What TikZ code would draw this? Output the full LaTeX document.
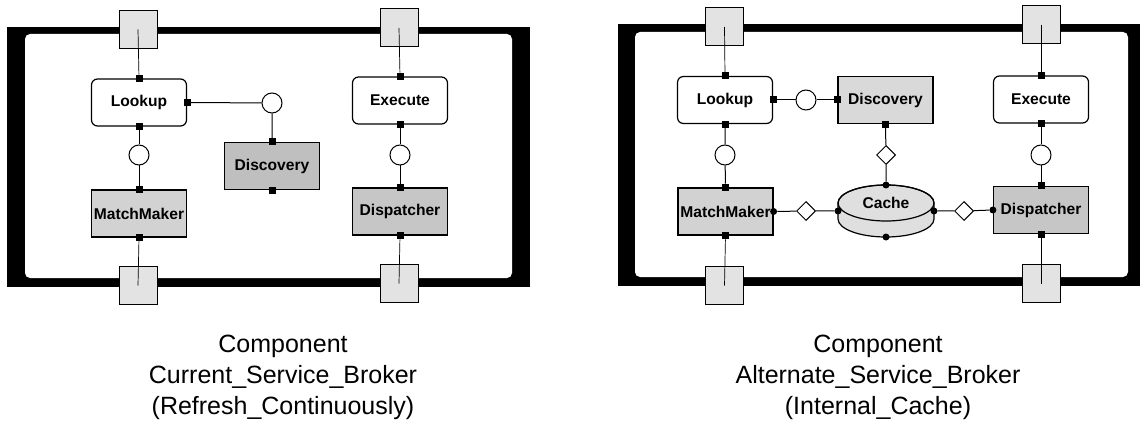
\documentclass[tikz,border=0pt]{standalone}
\usepackage{fontspec}
\setmainfont{Liberation Sans}
\usetikzlibrary{shapes.geometric}
\begin{document}
\begin{tikzpicture}[x=1pt,y=-1pt,
  comp/.style={draw, line width=1.2pt, minimum width=95pt, minimum height=47pt, inner sep=0pt, font=\fontsize{15.6}{18}\selectfont\bfseries},
  roundbox/.style={comp, fill=white, rounded corners=6pt},
  graybox/.style={comp, fill=#1},
  portbox/.style={draw, line width=1pt, fill=gray!22, minimum size=38pt, inner sep=0pt},
  sq/.style={fill=black, minimum size=7pt, inner sep=0pt},
  pdot/.style={circle, fill=black, minimum size=7pt, inner sep=0pt},
  ring/.style={circle, draw, fill=white, line width=1pt, minimum size=20pt, inner sep=0pt},
  dia/.style={diamond, draw, fill=white, line width=1pt, minimum size=19pt, inner sep=0pt},
  pwire/.style={line width=1pt},
  pline/.style={line width=0.7pt},
  capt/.style={align=center, font=\fontsize{25}{31}\selectfont, inner sep=0pt, anchor=north}
]
\useasboundingbox (0,0) rectangle (1140,422);

% ---------- left frame ----------
\fill (7,27) rectangle (530,287);
\fill[white, rounded corners=5pt] (25,34) rectangle (512,278);
% ---------- right frame ----------
\fill (618,24) rectangle (1140,286);
\fill[white, rounded corners=5pt] (635,32) rectangle (1128,277);

% ---------- ports ----------
\node[portbox] (pTL1) at (138,29.5) {};
\node[portbox] (pTR1) at (399,28) {};
\node[portbox] (pBL1) at (138,285.5) {};
\node[portbox] (pBR1) at (399,283.5) {};
\node[portbox] (pTL2) at (724.5,27) {};
\node[portbox] (pTR2) at (1041,25) {};
\node[portbox] (pBL2) at (724.5,285.5) {};
\node[portbox] (pBR2) at (1041,283.5) {};

% ---------- left components ----------
\node[roundbox] (L1) at (139,102.5) {Lookup};
\node[graybox=gray!35] (M1) at (139,213.5) {MatchMaker};
\node[graybox=gray!50] (D1) at (272,166) {Discovery};
\node[roundbox] (E1) at (400,100.5) {Execute};
\node[graybox=gray!45] (X1) at (400,211.5) {Dispatcher};

\node[sq] (L1t) at (L1.north) {};
\node[sq] (L1r) at (L1.east) {};
\node[sq] (L1b) at (L1.south) {};
\node[sq] (M1t) at (M1.north) {};
\node[sq] (M1b) at (M1.south) {};
\node[sq] (D1t) at (D1.north) {};
\node[sq] (D1b) at (D1.south) {};
\node[sq] (E1t) at (E1.north) {};
\node[sq] (E1b) at (E1.south) {};
\node[sq] (X1t) at (X1.north) {};
\node[sq] (X1b) at (X1.south) {};

\node[ring] (c11) at (139,155) {};
\node[ring] (c12) at (272,103) {};
\node[ring] (c13) at (400,155) {};

\draw[pline] (pTL1.center) -- (L1t);
\draw[pwire] (L1b) -- (c11) -- (M1t);
\draw[pline] (M1b) -- (pBL1.center);
\draw[pwire] (L1r) -- (c12) -- (D1t);
\draw[pline] (pTR1.center) -- (E1t);
\draw[pwire] (E1b) -- (c13) -- (X1t);
\draw[pline] (X1b) -- (pBR1.center);

% ---------- right components ----------
\node[roundbox] (L2) at (725,100) {Lookup};
\node[graybox=gray!30] (D2) at (885.5,100) {Discovery};
\node[roundbox] (E2) at (1041,99.5) {Execute};
\node[graybox=gray!35] (M2) at (725.5,211.5) {MatchMaker};
\node[graybox=gray!45] (X2) at (1041,210) {Dispatcher};

% Cache disk
\filldraw[fill=gray!25, line width=1.2pt] (838,203) -- (838,219)
  arc[start angle=180, end angle=360, x radius=48pt, y radius=18pt]
  -- (934,203)
  arc[start angle=0, end angle=180, x radius=48pt, y radius=18pt] -- cycle;
\draw[line width=1.2pt] (886,203) ellipse [x radius=48pt, y radius=18pt];
\node[inner sep=0pt, minimum width=96pt, minimum height=52pt] (C2) at (886,211) {};
\node[font=\fontsize{15.6}{18}\selectfont\bfseries, inner sep=0pt] (C2t) at (886,203) {Cache};

\node[sq] (L2t) at (L2.north) {};
\node[sq] (L2r) at (L2.east) {};
\node[sq] (L2b) at (L2.south) {};
\node[sq] (D2l) at (D2.west) {};
\node[sq] (D2b) at (D2.south) {};
\node[sq] (E2t) at (E2.north) {};
\node[sq] (E2b) at (E2.south) {};
\node[sq] (M2t) at (M2.north) {};
\node[sq] (M2b) at (M2.south) {};
\node[pdot] (M2r) at (M2.east) {};
\node[sq] (X2t) at (X2.north) {};
\node[sq] (X2b) at (X2.south) {};
\node[pdot] (X2l) at (X2.west) {};
\node[pdot] (C2n) at (886,185) {};
\node[pdot] (C2w) at (838,211) {};
\node[pdot] (C2e) at (934,211) {};
\node[pdot] (C2s) at (886,237) {};

\node[ring] (c21) at (806,100) {};
\node[ring] (c22) at (725,155) {};
\node[ring] (c23) at (1041,155) {};
\node[dia] (d21) at (886,155) {};
\node[dia] (d22) at (806,211) {};
\node[dia] (d23) at (964,211) {};

\draw[pline] (pTL2.center) -- (L2t);
\draw[pwire] (L2r) -- (c21) -- (D2l);
\draw[pwire] (L2b) -- (c22) -- (M2t);
\draw[pline] (M2b) -- (pBL2.center);
\draw[pwire] (D2b) -- (d21) -- (C2n);
\draw[pwire] (M2r) -- (d22) -- (C2w);
\draw[pwire] (C2e) -- (d23) -- (X2l);
\draw[pline] (pTR2.center) -- (E2t);
\draw[pwire] (E2b) -- (c23) -- (X2t);
\draw[pline] (X2b) -- (pBR2.center);

% ---------- captions ----------
\node[capt] (cap1) at (283,335) {Component\\Current\_Service\_Broker\\(Refresh\_Continuously)};
\node[capt] (cap2) at (878,335) {Component\\Alternate\_Service\_Broker\\(Internal\_Cache)};
\end{tikzpicture}
\end{document}
